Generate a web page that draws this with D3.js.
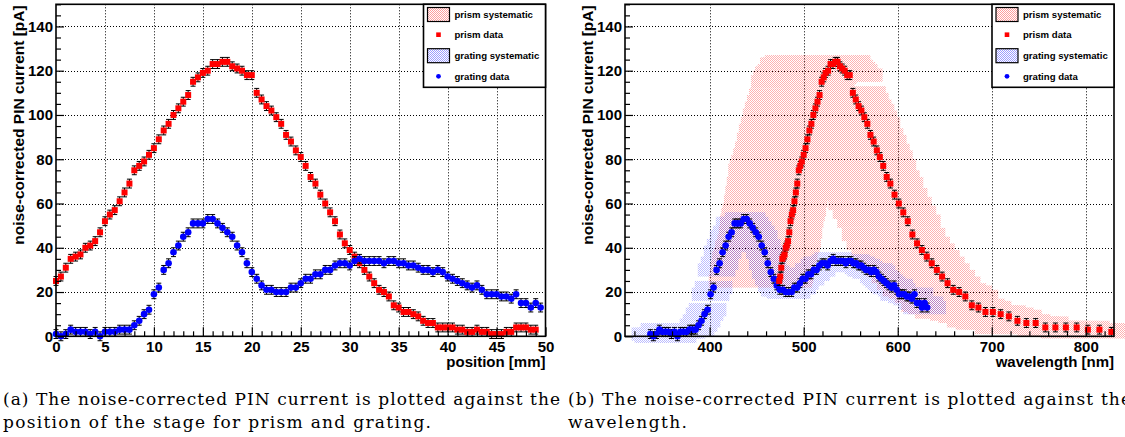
<!DOCTYPE html>
<html>
<head>
<meta charset="utf-8">
<script src="https://cdn.jsdelivr.net/npm/d3@7"></script>
<style>
  body { margin: 0; background: #fff; }
  svg { display: block; }
</style>
</head>
<body>
<div id="chart"></div>
<script>
// ---- data ----

// prism: noise-corrected PIN current [pA], stage positions 0 .. 49 mm in 0.5 mm steps
const prismCurrent = [
  25, 27, 31, 35, 36, 37, 40, 41, 43, 47,
  52, 55, 57, 61, 65, 69, 75, 77, 79, 82,
  85, 89, 93, 96, 100, 103, 106, 109, 115, 117,
  119, 120, 123, 123, 124, 124, 122, 121, 120, 118,
  118, 110, 107, 104, 102, 99, 96, 91, 88, 84,
  81, 77, 72, 69, 64, 60, 56, 52, 46, 42,
  39, 36, 33, 30, 27, 24, 21, 20, 18, 14,
  13, 11, 11, 10, 9, 7, 6, 6, 4, 4,
  4, 4, 3, 3, 2, 2, 3, 2, 2, 1,
  1, 1, 2, 2, 4, 4, 4, 3, 3
]

// grating: noise-corrected PIN current [pA], stage positions 0 .. 49.5 mm
const gratingCurrent = [
  1, 0, 1, 3, 2, 2, 2, 1, 2, 0,
  2, 2, 2, 3, 3, 3, 5, 7, 10, 12,
  19, 22, 30, 33, 38, 41, 45, 47, 51, 51,
  51, 53, 53, 51, 49, 47, 45, 41, 38, 33,
  29, 26, 23, 21, 21, 20, 20, 20, 22, 22,
  24, 26, 26, 28, 28, 30, 30, 32, 33, 33,
  32, 34, 35, 34, 34, 34, 34, 33, 34, 34,
  33, 33, 32, 32, 31, 30, 30, 29, 30, 29,
  27, 26, 25, 24, 23, 22, 23, 21, 19, 19,
  19, 18, 18, 17, 19, 15, 15, 13, 15, 13
]

// wavelength [nm] of each prism point (only the ones inside the 830 nm axis)
const prismWavelength = [
  474.0, 475.1, 476.2, 477.3, 478.5, 479.7, 480.9, 482.1, 483.4, 484.7,
  486.0, 487.4, 488.8, 490.2, 491.7, 493.2, 494.8, 496.4, 498.0, 500.0,
  502.0, 504.0, 506.1, 508.2, 510.3, 512.5, 514.7, 516.9, 519.1, 521.3,
  523.3, 526.0, 528.6, 531.1, 533.6, 536.0, 538.5, 541.0, 543.6, 546.3,
  549.0, 552.3, 555.4, 558.4, 561.4, 564.5, 567.7, 571.0, 574.4, 577.8,
  581.0, 584.6, 588.3, 592.2, 596.6, 601.2, 605.9, 610.7, 615.6, 620.6,
  625.7, 630.9, 636.2, 641.6, 647.2, 653.0, 659.0, 665.3, 671.9, 678.8,
  685.8, 693.3, 701.2, 709.5, 718.2, 727.3, 736.8, 746.7, 757.0, 767.7,
  778.8, 790.3, 802.2, 814.5, 827.2
]

// wavelength [nm] of each grating point
const gratingWavelength = [
  337.0, 340.2, 343.4, 346.6, 349.8, 353.0, 356.2, 359.4, 362.6, 365.8,
  369.0, 372.2, 375.4, 378.6, 381.8, 385.0, 388.2, 391.4, 394.6, 397.8,
  401.0, 404.2, 407.4, 410.6, 413.8, 417.0, 420.2, 423.4, 426.6, 429.8,
  433.0, 436.2, 439.4, 442.6, 445.8, 449.0, 452.2, 455.4, 458.6, 461.8,
  465.0, 468.2, 471.4, 474.6, 477.8, 481.0, 484.2, 487.2, 490.1, 493.1,
  496.0, 499.0, 501.9, 504.9, 507.8, 510.8, 513.7, 516.7, 519.6, 522.6,
  525.5, 528.5, 531.4, 534.1, 536.8, 539.5, 542.2, 544.9, 547.6, 550.3,
  553.0, 555.7, 558.4, 561.1, 563.8, 566.5, 569.2, 571.9, 574.6, 577.3,
  580.0, 582.7, 585.4, 588.1, 590.8, 593.5, 596.2, 598.9, 601.6, 604.3,
  607.0, 609.7, 612.4, 615.1, 617.8, 620.5, 623.2, 625.9, 628.6, 631.3
]

const positionStep = 0.5       // mm between points
const statError = 2            // pA, error bars
const prismSysWl = [75, 35]    // nm, systematic box below / above the point
const gratingSysWl = [20, 20]
const sysCurrent = 3           // pA, systematic box half height

const yTicks = [0, 20, 40, 60, 80, 100, 120, 140]
const posTicks = [0, 5, 10, 15, 20, 25, 30, 35, 40, 45, 50]
const wlTicks = [400, 500, 600, 700, 800]

const legendLabels = ["prism systematic", "prism data", "grating systematic", "grating data"]

// ---- layout ----
const W = 1125, H = 437
const plotTop = 4.3, plotBottom = 336.3

const svg = d3.select("#chart").append("svg")
    .attr("width", W)
    .attr("height", H)
    .style("font-family", "'Liberation Sans', Arial, sans-serif")

// dotted fill patterns for the systematic boxes
const defs = svg.append("defs")
function dotPattern(id, color) {
  const p = defs.append("pattern")
      .attr("id", id)
      .attr("width", 2).attr("height", 2)
      .attr("patternUnits", "userSpaceOnUse")
  p.append("rect").attr("width", 1).attr("height", 1).attr("fill", color)
  p.append("rect").attr("x", 1).attr("y", 1).attr("width", 1).attr("height", 1).attr("fill", color)
}
dotPattern("redDots", "#ff0000")
dotPattern("blueDots", "#0000ff")

const y = d3.scaleLinear().domain([0, 150]).range([plotBottom, plotTop])

function errorPath(x, yv) {
  const t = y(yv + statError), b = y(yv - statError), cx = x
  return `M${cx - 2.5},${t}H${cx + 2.5}M${cx},${t}V${b}M${cx - 2.5},${b}H${cx + 2.5}`
}

function drawPanel(cfg) {
  const g = svg.append("g")
  const x = d3.scaleLinear().domain(cfg.xDomain).range([cfg.left, cfg.right])

  // grid
  g.append("g").selectAll("line")
    .data(yTicks.filter(d => d > 0))
    .join("line")
    .attr("x1", cfg.left).attr("x2", cfg.right)
    .attr("y1", d => Math.round(y(d)) + 0.5).attr("y2", d => Math.round(y(d)) + 0.5)
    .attr("stroke", "#000").attr("stroke-dasharray", "1,2")
  g.append("g").selectAll("line")
    .data(cfg.xTicks.filter(d => d > cfg.xDomain[0] && d < cfg.xDomain[1]))
    .join("line")
    .attr("x1", d => Math.round(x(d)) + 0.5).attr("x2", d => Math.round(x(d)) + 0.5)
    .attr("y1", plotTop).attr("y2", plotBottom)
    .attr("stroke", "#000").attr("stroke-dasharray", "1,2")

  // systematic boxes (wavelength panel only)
  if (cfg.sys) {
    cfg.sys.forEach(s => {
      g.append("g")
        .attr("opacity", s.opacity)
        .selectAll("rect")
        .data(s.points)
        .join("rect")
        .attr("x", d => x(d[0] - s.wl[0]))
        .attr("width", d => x(d[0] + s.wl[1]) - x(d[0] - s.wl[0]))
        .attr("y", d => y(d[1] + sysCurrent))
        .attr("height", d => y(d[1] - sysCurrent) - y(d[1] + sysCurrent))
        .attr("fill", `url(#${s.pattern})`)
    })
  }

  // data: error bars then markers
  cfg.series.forEach(s => {
    g.append("g").selectAll("path")
      .data(s.points)
      .join("path")
      .attr("d", d => errorPath(x(d[0]), d[1]))
      .attr("stroke", "#000").attr("stroke-width", 1).attr("fill", "none")
    if (s.shape === "square") {
      g.append("g").selectAll("rect")
        .data(s.points)
        .join("rect")
        .attr("x", d => x(d[0]) - 3).attr("y", d => y(d[1]) - 3)
        .attr("width", 6).attr("height", 6)
        .attr("fill", s.color)
    } else {
      g.append("g").selectAll("circle")
        .data(s.points)
        .join("circle")
        .attr("cx", d => x(d[0])).attr("cy", d => y(d[1]))
        .attr("r", 3.3)
        .attr("fill", s.color)
    }
  })

  // axes
  const yAxis = g.append("g")
      .attr("transform", `translate(${cfg.left},0)`)
      .call(d3.axisLeft(y).tickValues(yTicks).tickSize(-8).tickPadding(3))
  const yMinor = g.append("g")
      .attr("transform", `translate(${cfg.left},0)`)
      .call(d3.axisLeft(y).tickValues(d3.range(0, 151, 5).filter(v => v % 20 !== 0)).tickSize(-5).tickFormat(""))

  const xAxis = g.append("g")
      .attr("transform", `translate(0,${plotBottom})`)
      .call(d3.axisBottom(x).tickValues(cfg.xTicks).tickSize(-9).tickPadding(5))
  const xMinor = g.append("g")
      .attr("transform", `translate(0,${plotBottom})`)
      .call(d3.axisBottom(x).tickValues(cfg.xMinor).tickSize(-5).tickFormat(""))

  ;[yAxis, yMinor, xAxis, xMinor].forEach(a => {
    a.select(".domain").remove()
    a.selectAll("line").attr("stroke", "#000").attr("stroke-width", 1.2)
    a.selectAll("text")
      .attr("fill", "#000")
      .style("font-family", "'Liberation Sans', Arial, sans-serif")
      .style("font-size", "15px")
      .style("font-weight", "bold")
  })

  // frame
  g.append("rect")
    .attr("x", cfg.left).attr("y", plotTop)
    .attr("width", cfg.right - cfg.left).attr("height", plotBottom - plotTop)
    .attr("fill", "none").attr("stroke", "#000").attr("stroke-width", 1.6)

  // axis titles
  g.append("text")
    .attr("transform", `translate(${cfg.yTitleX},${plotTop + 1}) rotate(-90)`)
    .attr("text-anchor", "end")
    .style("font-size", "15.5px").style("font-weight", "bold")
    .text("noise-corrected PIN current [pA]")
  g.append("text")
    .attr("x", cfg.right).attr("y", 367)
    .attr("text-anchor", "end")
    .style("font-size", "15px").style("font-weight", "bold")
    .text(cfg.xTitle)

  // legend
  const lx = cfg.right - 122, lw = 122, lh = 83
  const leg = g.append("g")
  leg.append("rect")
    .attr("x", lx).attr("y", plotTop)
    .attr("width", lw).attr("height", lh)
    .attr("fill", "#fff").attr("stroke", "#000").attr("stroke-width", 1.6)
  const rowY = [14.5, 34.7, 55.7, 76.3]
  const cx = lx + 15
  ;[["redDots", 0.38], ["blueDots", 0.38]].forEach((p, i) => {
    leg.append("rect")
      .attr("x", cx - 11).attr("y", rowY[i * 2] - 7)
      .attr("width", 22).attr("height", 14)
      .attr("fill", `url(#${p[0]})`).attr("fill-opacity", p[1])
    leg.append("rect")
      .attr("x", cx - 11).attr("y", rowY[i * 2] - 7)
      .attr("width", 22).attr("height", 14)
      .attr("fill", "none").attr("stroke", "#000").attr("stroke-width", 1.2)
  })
  leg.append("rect")
    .attr("x", cx - 2.3).attr("y", rowY[1] - 2.3)
    .attr("width", 4.6).attr("height", 4.6).attr("fill", "#ff0000")
  leg.append("circle")
    .attr("cx", cx).attr("cy", rowY[3]).attr("r", 2.4).attr("fill", "#0000ff")
  leg.selectAll("text.lab")
    .data(legendLabels)
    .join("text")
    .attr("class", "lab")
    .attr("x", lx + 31)
    .attr("y", (d, i) => rowY[i] + 3.5)
    .style("font-size", "9.6px").style("font-weight", "bold")
    .text(d => d)
}

const positionPrism = prismCurrent.map((v, i) => [i * positionStep, v])
const positionGrating = gratingCurrent.map((v, i) => [i * positionStep, v])
const wlPrism = prismWavelength.map((w, i) => [w, prismCurrent[i]])
const wlGrating = gratingWavelength.map((w, i) => [w, gratingCurrent[i]])

// (a) against stage position
drawPanel({
  left: 56, right: 545.5,
  xDomain: [0, 50],
  xTicks: posTicks,
  xMinor: d3.range(0, 51, 1).filter(v => v % 5 !== 0),
  xTitle: "position [mm]",
  yTitleX: 24,
  series: [
    { points: positionPrism, shape: "square", color: "#ff0000" },
    { points: positionGrating, shape: "circle", color: "#0000ff" }
  ]
})

// (b) against wavelength
drawPanel({
  left: 625, right: 1114,
  xDomain: [310, 830],
  xTicks: wlTicks,
  xMinor: d3.range(320, 830, 20).filter(v => v % 100 !== 0),
  xTitle: "wavelength [nm]",
  yTitleX: 593,
  sys: [
    { points: wlPrism, wl: prismSysWl, pattern: "redDots", opacity: 0.3 },
    { points: wlGrating, wl: gratingSysWl, pattern: "blueDots", opacity: 0.26 }
  ],
  series: [
    { points: wlGrating, shape: "circle", color: "#0000ff" },
    { points: wlPrism, shape: "square", color: "#ff0000" }
  ]
})

// captions
const captions = [
  { x: 3, y: 405, len: 557, text: "(a) The noise-corrected PIN current is plotted against the" },
  { x: 3, y: 428, len: 428, text: "position of the stage for prism and grating." },
  { x: 568, y: 405, len: 563, text: "(b) The noise-corrected PIN current is plotted against the" },
  { x: 568, y: 428, len: 119, text: "wavelength." }
]
svg.selectAll("text.caption")
  .data(captions)
  .join("text")
  .attr("class", "caption")
  .attr("x", d => d.x).attr("y", d => d.y)
  .attr("textLength", d => d.len)
  .attr("lengthAdjust", "spacing")
  .style("font-family", "'DejaVu Serif', 'Liberation Serif', serif")
  .style("font-size", "17px")
  .text(d => d.text)
</script>
</body>
</html>
